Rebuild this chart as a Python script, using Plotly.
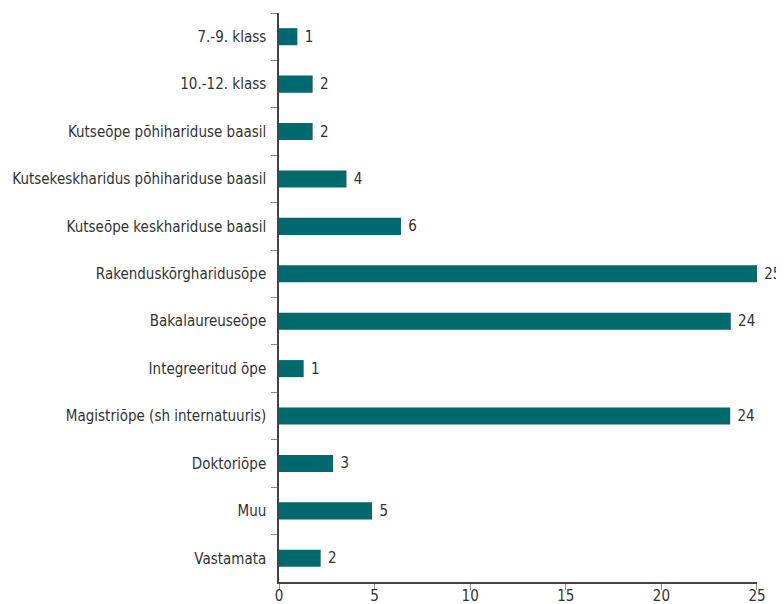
import plotly.graph_objects as go

categories = [
    "7.-9. klass",
    "10.-12. klass",
    "Kutseõpe põhihariduse baasil",
    "Kutsekeskharidus põhihariduse baasil",
    "Kutseõpe keskhariduse baasil",
    "Rakenduskõrgharidusõpe",
    "Bakalaureuseõpe",
    "Integreeritud õpe",
    "Magistriõpe (sh internatuuris)",
    "Doktoriõpe",
    "Muu",
    "Vastamata",
]
values = [0.96, 1.76, 1.76, 3.53, 6.38, 25.0, 23.63, 1.29, 23.6, 2.83, 4.87, 2.18]
x_ticks = [0, 5, 10, 15, 20, 25]

FONT = "DejaVu Sans Condensed, sans-serif"

fig = go.Figure(
    go.Bar(
        x=values,
        y=categories,
        orientation="h",
        marker=dict(color="#00696d", line=dict(width=0)),
        width=0.36,
        text=[f"{round(v):d}" for v in values],
        texttemplate=" %{text}",
        textposition="outside",
        constraintext="none",
        cliponaxis=False,
        textfont=dict(family=FONT, size=15, color="#333333"),
    )
)

fig.update_layout(
    width=776,
    height=596,
    margin=dict(l=271, r=27, t=5, b=22),
    plot_bgcolor="white",
    paper_bgcolor="white",
    showlegend=False,
    font=dict(family=FONT, size=15, color="#333333"),
)
fig.update_xaxes(
    range=[0, 25.001],
    tickvals=x_ticks,
    showgrid=False,
    zeroline=False,
    showline=True,
    linecolor="#444444",
    linewidth=1.5,
    ticks="outside",
    ticklen=6,
    tickcolor="#888888",
    ticklabelstandoff=-7,
    automargin=False,
    tickfont=dict(family=FONT, size=15, color="#333333"),
)
fig.update_yaxes(
    categoryorder="array",
    categoryarray=categories,
    autorange="reversed",
    showgrid=False,
    showline=True,
    linecolor="#444444",
    linewidth=1.5,
    ticks="outside",
    tickson="boundaries",
    ticklen=6,
    tickcolor="#888888",
    ticklabelstandoff=8,
    automargin=False,
    tickfont=dict(family=FONT, size=15, color="#333333"),
)

fig.write_html("out.html")
